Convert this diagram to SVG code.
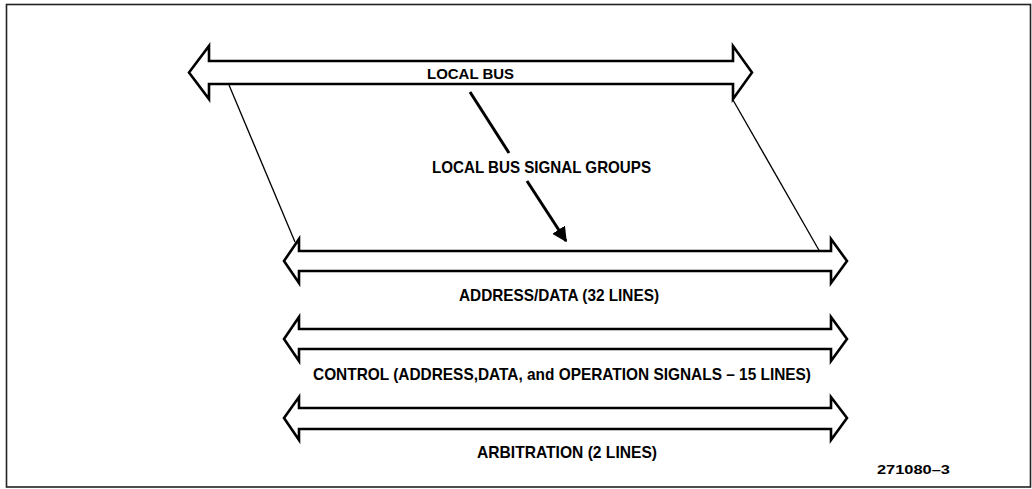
<svg xmlns="http://www.w3.org/2000/svg" width="1032" height="489" viewBox="0 0 1032 489">
<style>
.bus{fill:#fff;stroke:#000;stroke-width:2.6;stroke-linejoin:miter}
.lbl{font-family:"Liberation Sans",Arial,sans-serif;font-weight:bold;fill:#000}
.thin{stroke:#000;stroke-width:1.3;fill:none}
.ptr{stroke:#000;stroke-width:3;fill:none}
</style>
<defs>
<marker id="ah" viewBox="0 0 10 10" refX="9" refY="5" markerWidth="5" markerHeight="5" markerUnits="strokeWidth" orient="auto">
<path d="M0,0 L10,5 L0,10 Z" fill="#000"/>
</marker>
</defs>
<rect x="6.5" y="4.5" width="1024" height="482.5" fill="#fff" stroke="#222" stroke-width="1.6"/>
<g id="connectors">
<line class="thin" x1="229" y1="85" x2="295" y2="242"/>
<line class="thin" x1="733" y1="100" x2="820" y2="252"/>
<line class="ptr" x1="470" y1="92" x2="509" y2="153"/>
<line class="ptr" x1="527" y1="181" x2="566" y2="241" marker-end="url(#ah)"/>
</g>
<g id="local-bus">
<polygon class="bus" points="189,72.5 209,46 209,61 733,61 733,46 752,72.5 733,99 733,84 209,84 209,99"/>
<text class="lbl" x="427" y="78.5" font-size="15.5" textLength="87" lengthAdjust="spacingAndGlyphs">LOCAL BUS</text>
</g>
<g id="signal-groups">
<text class="lbl" x="432" y="173" font-size="17" textLength="219" lengthAdjust="spacingAndGlyphs">LOCAL BUS SIGNAL GROUPS</text>
</g>
<g id="address-data">
<polygon class="bus" points="284,261 299,239 299,251 831,251 831,239 847,261 831,283 831,271 299,271 299,283"/>
<text class="lbl" x="459" y="301" font-size="17" textLength="200" lengthAdjust="spacingAndGlyphs">ADDRESS/DATA (32 LINES)</text>
</g>
<g id="control">
<polygon class="bus" points="284,339 299,317 299,329 831,329 831,317 847,339 831,361 831,349 299,349 299,361"/>
<text class="lbl" x="313" y="380" font-size="17" textLength="498" lengthAdjust="spacingAndGlyphs">CONTROL (ADDRESS,DATA, and OPERATION SIGNALS – 15 LINES)</text>
</g>
<g id="arbitration">
<polygon class="bus" points="284,418 299,397 299,408 831,408 831,397 847,418 831,440 831,429 299,429 299,440"/>
<text class="lbl" x="477" y="458" font-size="17" textLength="180" lengthAdjust="spacingAndGlyphs">ARBITRATION (2 LINES)</text>
</g>
<g id="figure-number">
<text class="lbl" x="877" y="474" font-size="13.5" textLength="73" lengthAdjust="spacingAndGlyphs">271080–3</text>
</g>
</svg>
